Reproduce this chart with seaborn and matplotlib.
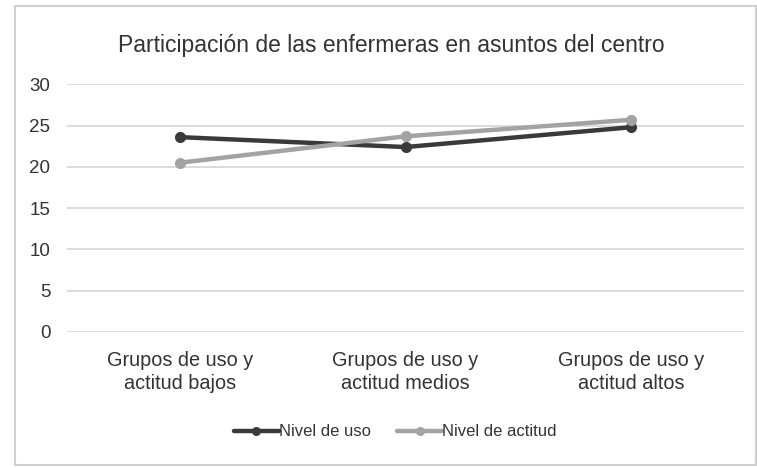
import matplotlib
matplotlib.use("Agg")
import matplotlib.pyplot as plt
from matplotlib.patches import Rectangle
import pandas as pd
import seaborn as sns

# Chart data
categories = ["Grupos de uso y\nactitud bajos",
              "Grupos de uso y\nactitud medios",
              "Grupos de uso y\nactitud altos"]
nivel_uso = [23.6, 22.4, 24.8]
nivel_actitud = [20.5, 23.7, 25.7]
series_names = ["Nivel de uso", "Nivel de actitud"]
y_ticks = [0, 5, 10, 15, 20, 25, 30]
title = "Participación de las enfermeras en asuntos del centro"

df = pd.DataFrame({
    "grupo": categories * 2,
    "valor": nivel_uso + nivel_actitud,
    "serie": [series_names[0]] * 3 + [series_names[1]] * 3,
})

sns.set_theme(style="white")
plt.rcParams["font.family"] = ["Liberation Sans", "DejaVu Sans"]
text_color = "#333333"

fig = plt.figure(figsize=(7.57, 4.68), dpi=100)
ax = fig.add_axes([0.0885, 0.2906, 0.8945, 0.5293])

palette = {series_names[0]: "#3a3a3a", series_names[1]: "#a3a3a3"}
sns.lineplot(data=df, x="grupo", y="valor", hue="serie", palette=palette,
             marker="o", markersize=8, markeredgewidth=0, linewidth=3.2,
             sort=False, ax=ax, legend=True)

ax.set_xlim(-0.5, 2.5)
ax.set_ylim(0, 30)
ax.set_yticks(y_ticks)
ax.set_xlabel("")
ax.set_ylabel("")
ax.yaxis.grid(True, color="#d9d9d9", linewidth=1.3)
ax.set_axisbelow(True)
for s in ax.spines.values():
    s.set_visible(False)
ax.tick_params(axis="y", length=0, pad=12, labelsize=13.5, labelcolor=text_color)
ax.tick_params(axis="x", length=0, pad=14, labelsize=14.3, labelcolor=text_color)
for lbl in ax.get_xticklabels():
    lbl.set_linespacing(1.25)

fig.text(0.517, 0.903, title, ha="center", va="center", fontsize=16.5,
         color=text_color)

handles, labels = ax.get_legend_handles_labels()
for h in handles:
    h.set_markersize(6.5)
ax.legend(handles, labels, loc="center", bbox_to_anchor=(0.522, 0.077),
          bbox_transform=fig.transFigure, ncol=2, frameon=False,
          fontsize=12, handlelength=2.7, handletextpad=0.0, columnspacing=1.6,
          labelcolor=text_color)

# light frame around the whole chart
fig.patches.append(Rectangle((15 / 757, 3 / 468), 741 / 757, 459 / 468,
                             transform=fig.transFigure, fill=False,
                             edgecolor="#d0d0d0", linewidth=1.5))

fig.savefig("out.png", dpi=100, facecolor="white")
